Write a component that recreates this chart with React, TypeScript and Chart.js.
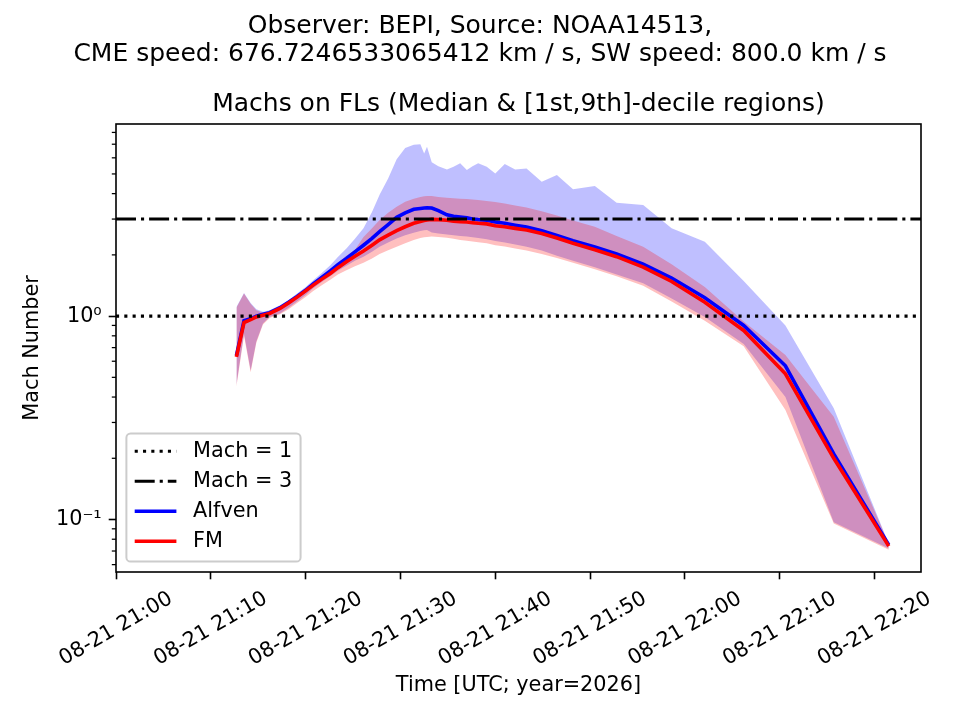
import { useEffect, useRef } from 'react'
import { Chart, registerables } from 'chart.js'
import type { Plugin } from 'chart.js'

Chart.register(...registerables)

// sample times, UTC on 2026-08-21
const TIMES = [
  '21:12:42', '21:13:30', '21:14:12', '21:14:48', '21:15:30', '21:16:12', '21:17:18', '21:18:12',
  '21:19:06', '21:20:00', '21:20:48', '21:21:42', '21:22:36', '21:23:24', '21:24:18', '21:25:12',
  '21:26:06', '21:27:00', '21:27:48', '21:28:42', '21:29:36', '21:30:30', '21:31:24', '21:32:06',
  '21:32:30', '21:32:48', '21:33:18', '21:34:00', '21:34:54', '21:35:36', '21:36:18', '21:37:00',
  '21:37:36', '21:38:12', '21:39:06', '21:40:00', '21:41:00', '21:42:06', '21:43:18', '21:44:54',
  '21:46:30', '21:48:12', '21:50:30', '21:52:48', '21:55:36', '21:58:36', '22:02:06', '22:06:12',
  '22:10:36', '22:15:42', '22:21:30',
]

const ALFVEN_MEDIAN = [
  0.64, 0.95, 0.97, 1.0, 1.02, 1.04, 1.1, 1.17, 1.25, 1.34, 1.44, 1.55, 1.67, 1.79, 1.92, 2.07,
  2.23, 2.41, 2.6, 2.82, 3.06, 3.22, 3.35, 3.38, 3.4, 3.41, 3.4, 3.3, 3.15, 3.1, 3.07, 3.04,
  3.0, 2.98, 2.96, 2.9, 2.86, 2.8, 2.74, 2.63, 2.49, 2.35, 2.19, 2.02, 1.8, 1.54, 1.23, 0.9,
  0.57, 0.21, 0.075,
]
const ALFVEN_D1 = [
  0.46, 0.82, 0.54, 0.75, 0.92, 0.99, 1.03, 1.1, 1.18, 1.27, 1.37, 1.47, 1.57, 1.67, 1.77, 1.87,
  1.96, 2.07, 2.19, 2.3, 2.41, 2.5, 2.57, 2.62, 2.64, 2.65, 2.58, 2.55, 2.52, 2.5, 2.48, 2.46,
  2.44, 2.42, 2.39, 2.34, 2.3, 2.25, 2.19, 2.1, 1.98, 1.87, 1.74, 1.6, 1.45, 1.22, 0.99, 0.73,
  0.4, 0.097, 0.072,
]
const ALFVEN_D9 = [
  1.11, 1.3, 1.16, 1.08, 1.05, 1.07, 1.13, 1.2, 1.29, 1.39, 1.5, 1.63, 1.78, 1.95, 2.15, 2.4,
  2.7, 3.25, 3.95, 4.75, 5.9, 6.7, 6.95, 7.0, 6.3, 6.8, 5.7, 5.45, 5.26, 5.42, 5.64, 5.23,
  5.45, 5.64, 5.42, 5.03, 5.6, 5.26, 5.32, 4.58, 4.94, 4.2, 4.36, 3.61, 3.52, 2.7, 2.32, 1.49,
  0.9, 0.352, 0.076,
]

const FM_MEDIAN = [
  0.63, 0.93, 0.96, 0.99, 1.01, 1.03, 1.09, 1.16, 1.24, 1.33, 1.42, 1.52, 1.62, 1.73, 1.85, 1.97,
  2.09, 2.23, 2.37, 2.5, 2.63, 2.75, 2.86, 2.92, 2.95, 2.97, 2.99, 2.98, 2.96, 2.93, 2.91, 2.9,
  2.88, 2.86, 2.84, 2.78, 2.75, 2.7, 2.65, 2.55, 2.42, 2.28, 2.12, 1.96, 1.74, 1.48, 1.17, 0.85,
  0.52, 0.2, 0.074,
]
const FM_D1 = [
  0.45, 0.8, 0.53, 0.74, 0.91, 0.98, 1.02, 1.08, 1.16, 1.24, 1.33, 1.42, 1.51, 1.6, 1.68, 1.76,
  1.83, 1.92, 2.02, 2.11, 2.19, 2.28, 2.37, 2.42, 2.44, 2.45, 2.46, 2.45, 2.43, 2.4, 2.37, 2.35,
  2.33, 2.31, 2.28, 2.23, 2.2, 2.15, 2.1, 2.02, 1.93, 1.83, 1.7, 1.57, 1.41, 1.18, 0.95, 0.71,
  0.345, 0.0955, 0.071,
]
const FM_D9 = [
  1.1, 1.29, 1.15, 1.07, 1.04, 1.06, 1.12, 1.19, 1.27, 1.37, 1.47, 1.58, 1.7, 1.83, 1.98, 2.12,
  2.45, 2.7, 2.97, 3.22, 3.45, 3.65, 3.78, 3.85, 3.88, 3.89, 3.89, 3.85, 3.82, 3.8, 3.78, 3.76,
  3.74, 3.72, 3.68, 3.64, 3.58, 3.5, 3.42, 3.28, 3.12, 2.95, 2.75, 2.48, 2.19, 1.8, 1.39, 0.94,
  0.643, 0.32, 0.076,
]

const X_RANGE = ['21:00:00', '22:24:54']
const Y_RANGE = [0.0552, 8.8]

const SUPTITLE = [
  'Observer: BEPI, Source: NOAA14513,',
  'CME speed: 676.7246533065412 km / s, SW speed: 800.0 km / s',
]
const TITLE = 'Machs on FLs (Median & [1st,9th]-decile regions)'

const FONT = 'DejaVu Sans'
const FS = 20.8

const toMinutes = (t: string) => {
  const [h, m, s] = t.split(':').map(Number)
  return (h - 21) * 60 + m + s / 60
}

const timeLabel = (v: number) => {
  const total = Math.round(v)
  const h = 21 + Math.floor(total / 60)
  const m = total % 60
  return `08-21 ${h}:${String(m).padStart(2, '0')}`
}

const SUP: Record<string, string> = {
  '-': '\u207b', '0': '\u2070', '1': '\u00b9', '2': '\u00b2', '3': '\u00b3',
  '4': '\u2074', '5': '\u2075', '6': '\u2076', '7': '\u2077', '8': '\u2078', '9': '\u2079',
}
const isPow10 = (v: number) => Math.abs(Math.log10(v) - Math.round(Math.log10(v))) < 1e-9
const pow10Label = (v: number) =>
  '10' + String(Math.round(Math.log10(v))).split('').map((c) => SUP[c]).join('')

const points = (ys: number[]) => TIMES.map((t, i) => ({ x: toMinutes(t), y: ys[i] }))
const xMin = toMinutes(X_RANGE[0])
const xMax = toMinutes(X_RANGE[1])
const level = (y: number) => [{ x: xMin, y }, { x: xMax, y }]

// minor log ticks on the y axis
const minorTicks: Plugin = {
  id: 'minorTicks',
  afterDraw(chart) {
    const y = chart.scales.y
    const ctx = chart.ctx
    ctx.save()
    ctx.strokeStyle = '#000'
    ctx.lineWidth = 1.25
    for (let e = -2; e <= 1; e++) {
      for (let m = 2; m <= 9; m++) {
        const v = m * Math.pow(10, e)
        if (v < y.min || v > y.max) continue
        const py = y.getPixelForValue(v)
        ctx.beginPath()
        ctx.moveTo(y.right - 4.2, py)
        ctx.lineTo(y.right, py)
        ctx.stroke()
      }
    }
    ctx.restore()
  },
}

// four spines round the plot area
const frame: Plugin = {
  id: 'frame',
  afterDraw(chart) {
    const { left, top, width, height } = chart.chartArea
    const ctx = chart.ctx
    ctx.save()
    ctx.strokeStyle = '#000'
    ctx.lineWidth = 1.6
    ctx.strokeRect(left, top, width, height)
    ctx.restore()
  },
}

// legend box in the lower left corner of the axes
const boxLegend: Plugin = {
  id: 'boxLegend',
  afterDraw(chart) {
    const items = chart.data.datasets.filter((d: any) => d.inLegend)
    const ctx = chart.ctx
    const { left, bottom } = chart.chartArea
    const pad = 8.3
    const handle = 41.7
    const gap = 16.7
    const row = 30
    ctx.save()
    ctx.font = `${FS}px "${FONT}"`
    const textW = Math.max(...items.map((d) => ctx.measureText(String(d.label)).width))
    const w = pad + handle + gap + textW + pad
    const h = items.length * row + 8
    const x0 = left + 10.4
    const y0 = bottom - 10.4 - h
    ctx.beginPath()
    ctx.roundRect(x0, y0, w, h, 4.2)
    ctx.fillStyle = 'rgba(255,255,255,0.8)'
    ctx.fill()
    ctx.strokeStyle = '#cccccc'
    ctx.lineWidth = 2
    ctx.stroke()
    items.forEach((d: any, i) => {
      const cy = y0 + 17.7 + i * row
      ctx.beginPath()
      ctx.setLineDash(d.borderDash || [])
      ctx.strokeStyle = d.borderColor
      ctx.lineWidth = d.borderWidth
      ctx.moveTo(x0 + pad, cy)
      ctx.lineTo(x0 + pad + handle, cy)
      ctx.stroke()
      ctx.setLineDash([])
      ctx.fillStyle = '#000'
      ctx.textBaseline = 'middle'
      ctx.textAlign = 'left'
      ctx.fillText(String(d.label), x0 + pad + handle + gap, cy)
    })
    ctx.restore()
  },
}

export default function App() {
  const canvasRef = useRef<HTMLCanvasElement>(null)
  const chartRef = useRef<Chart | null>(null)

  useEffect(() => {
    if (!canvasRef.current) return
    if (chartRef.current) chartRef.current.destroy()

    const band = { borderWidth: 0, pointRadius: 0, pointHoverRadius: 0 }
    const font = { family: FONT, size: FS }

    chartRef.current = new Chart(canvasRef.current, {
      type: 'line',
      data: {
        datasets: [
          { ...band, label: 'Alfven 1st decile', data: points(ALFVEN_D1), fill: false, order: 6 },
          { ...band, label: 'Alfven 9th decile', data: points(ALFVEN_D9), fill: '-1', backgroundColor: 'rgba(0,0,255,0.25)', order: 5 },
          { ...band, label: 'FM 1st decile', data: points(FM_D1), fill: false, order: 4 },
          { ...band, label: 'FM 9th decile', data: points(FM_D9), fill: '-1', backgroundColor: 'rgba(255,0,0,0.25)', order: 3 },
          { label: 'Mach = 1', data: level(1), borderColor: '#000', borderWidth: 3.1, borderDash: [3.1, 5.2], pointRadius: 0, fill: false, order: -2, inLegend: true },
          { label: 'Mach = 3', data: level(3), borderColor: '#000', borderWidth: 3.1, borderDash: [20, 5, 3.1, 5], pointRadius: 0, fill: false, order: -1, inLegend: true },
          { label: 'Alfven', data: points(ALFVEN_MEDIAN), borderColor: '#0000ff', borderWidth: 3.6, pointRadius: 0, fill: false, order: 1, inLegend: true },
          { label: 'FM', data: points(FM_MEDIAN), borderColor: '#ff0000', borderWidth: 3.6, pointRadius: 0, fill: false, order: 0, inLegend: true },
        ] as any,
      },
      options: {
        animation: false,
        responsive: false,
        events: [],
        layout: { padding: 0 },
        plugins: {
          legend: { display: false },
          tooltip: { enabled: false },
          title: {
            display: true,
            text: SUPTITLE,
            color: '#000',
            font: { family: FONT, size: 25, weight: 'normal', lineHeight: 1.12 },
            padding: { top: 12, bottom: 10 },
          },
          subtitle: {
            display: true,
            text: TITLE,
            fullSize: false,
            color: '#000',
            font: { family: FONT, size: 25, weight: 'normal', lineHeight: 1.2 },
            padding: { top: 11, bottom: 5 },
          },
        },
        scales: {
          x: {
            type: 'linear',
            min: xMin,
            max: xMax,
            border: { display: false },
            grid: { drawOnChartArea: false, tickLength: 7.3, tickWidth: 1.6, tickColor: '#000' },
            ticks: {
              stepSize: 10,
              includeBounds: false,
              autoSkip: false,
              minRotation: 30,
              maxRotation: 30,
              labelOffset: 55,
              padding: 7,
              color: '#000',
              font,
              callback: (v) => timeLabel(Number(v)),
            },
            title: { display: true, text: 'Time [UTC; year=2026]', color: '#000', font, padding: { top: 0, bottom: 22 } },
            afterFit: (s: any) => {
              s.height = 148
              s.paddingLeft = 0
              // keeps the plot area clear of the right edge, titles stay centred on the figure
              s.paddingRight = 39
            },
          },
          y: {
            type: 'logarithmic',
            min: Y_RANGE[0],
            max: Y_RANGE[1],
            border: { display: false },
            grid: { drawOnChartArea: false, tickLength: 7.3, tickWidth: 1.6, tickColor: '#000' },
            ticks: {
              autoSkip: false,
              padding: 7,
              color: '#000',
              font,
              callback: (v) => pow10Label(Number(v)),
            },
            afterBuildTicks: (s: any) => {
              s.ticks = s.ticks.filter((t: any) => isPow10(t.value))
            },
            title: { display: true, text: 'Mach Number', color: '#000', font, padding: { top: 20, bottom: 0 } },
            afterFit: (s: any) => {
              s.width = 116
            },
          },
        },
      },
      plugins: [minorTicks, frame, boxLegend],
    })

    return () => {
      if (chartRef.current) {
        chartRef.current.destroy()
        chartRef.current = null
      }
    }
  }, [])

  return (
    <div style={{ position: 'absolute', left: 0, top: 0, width: 960, height: 720, background: '#fff' }}>
      <canvas ref={canvasRef} width={960} height={720} />
    </div>
  )
}
